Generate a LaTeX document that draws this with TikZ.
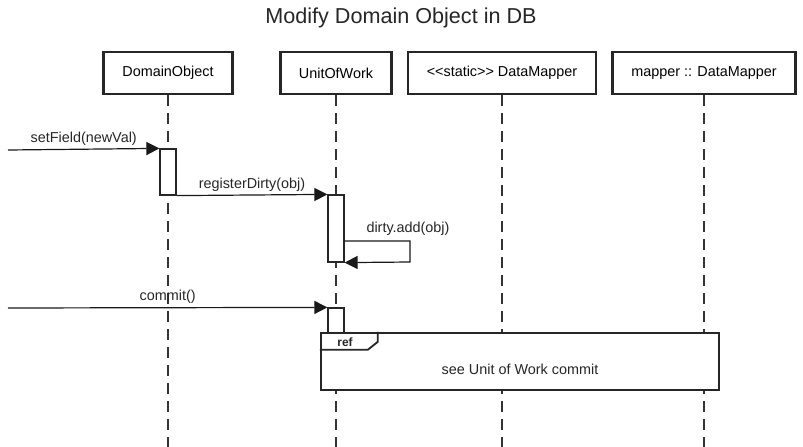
\documentclass[tikz,border=0pt]{standalone}
\usepackage{fontspec}
\setmainfont{Liberation Sans}
\usepackage{tikz}
\usetikzlibrary{arrows.meta,calc}

\tikzset{
  head/.style={draw=black!85,line width=2.4pt,fill=white,minimum height=42pt,inner sep=0pt,font=\fontsize{14.4}{17}\selectfont},
  lifeline/.style={draw=black!80,line width=1.2pt,dash pattern=on 11pt off 7pt},
  act/.style={draw=black!85,line width=1.2pt,fill=white,minimum width=16pt,inner sep=0pt},
  msg/.style={draw=black!90,line width=1.2pt,-{Triangle[length=13pt,width=13pt]}},
  lbl/.style={font=\fontsize{14.4}{17}\selectfont,text=black!85},
}

\begin{document}
\begin{tikzpicture}[x=1pt,y=-1pt]
       \useasboundingbox (0,0) rectangle (803,447);

       %标题
       \node[font=\fontsize{21.6}{26}\selectfont,text=black!85] (title) at (401,18) {Modify Domain Object in DB};

       %对象
       \node[head,minimum width=129pt] (dom) at (168,73) {DomainObject};
       \node[head,minimum width=111pt] (uow) at (336,73) {UnitOfWork};
       \node[head,minimum width=188pt] (sdm) at (502,73) {{<}{<}static{>}{>} DataMapper};
       \node[head,minimum width=183pt] (mdm) at (704,73) {mapper :: DataMapper};

       %生命线
       \foreach \n/\x in {dom/168,uow/336,sdm/502,mdm/704}  {
       	\coordinate (\n end) at (\x,447);
       	\draw[lifeline] (\n.south) -- (\n end);
       }

       %激活条
       \node[act,minimum height=46pt] (act1) at (168,172) {};
       \node[act,minimum height=67pt] (act2) at (336,228.5) {};
       \node[act,minimum height=25pt] (act3) at (336,320.5) {};

       %消息
       \coordinate (in1) at (8,150);
       \draw[msg] (in1) -- node[lbl,above] (m1) {setField(newVal)} (act1.north west);
       \draw[msg] (act1.south east) -- node[lbl,above] (m2) {registerDirty(obj)} (act2.north west);

       \coordinate (loop a) at (410,241);
       \coordinate (loop b) at (410,262);
       \draw[msg] (act2.east |- loop a) -- (loop a) -- (loop b) -- (act2.south east);
       \node[lbl] (m3) at (408,229) {dirty.add(obj)};

       \coordinate (in2) at (8,308);
       \draw[msg] (in2) -- node[lbl,above] (m4) {commit()} (act3.north west);

       %引用框
       \node[draw=black!85,line width=2.4pt,fill=white,minimum width=398pt,minimum height=57pt,inner sep=0pt] (ref) at (520,361.5) {};
       \draw[draw=black!85,line width=1.8pt] ($(ref.north west)+(0,18)$) -- ++(48,0) -- ++(10,-8) -- ++(0,-10);
       \node[font=\bfseries\fontsize{12}{14}\selectfont,text=black!85] (reftag) at (345,342) {ref};
       \node[lbl] (reftext) at (520,369) {see Unit of Work commit};

\end{tikzpicture}
\end{document}
